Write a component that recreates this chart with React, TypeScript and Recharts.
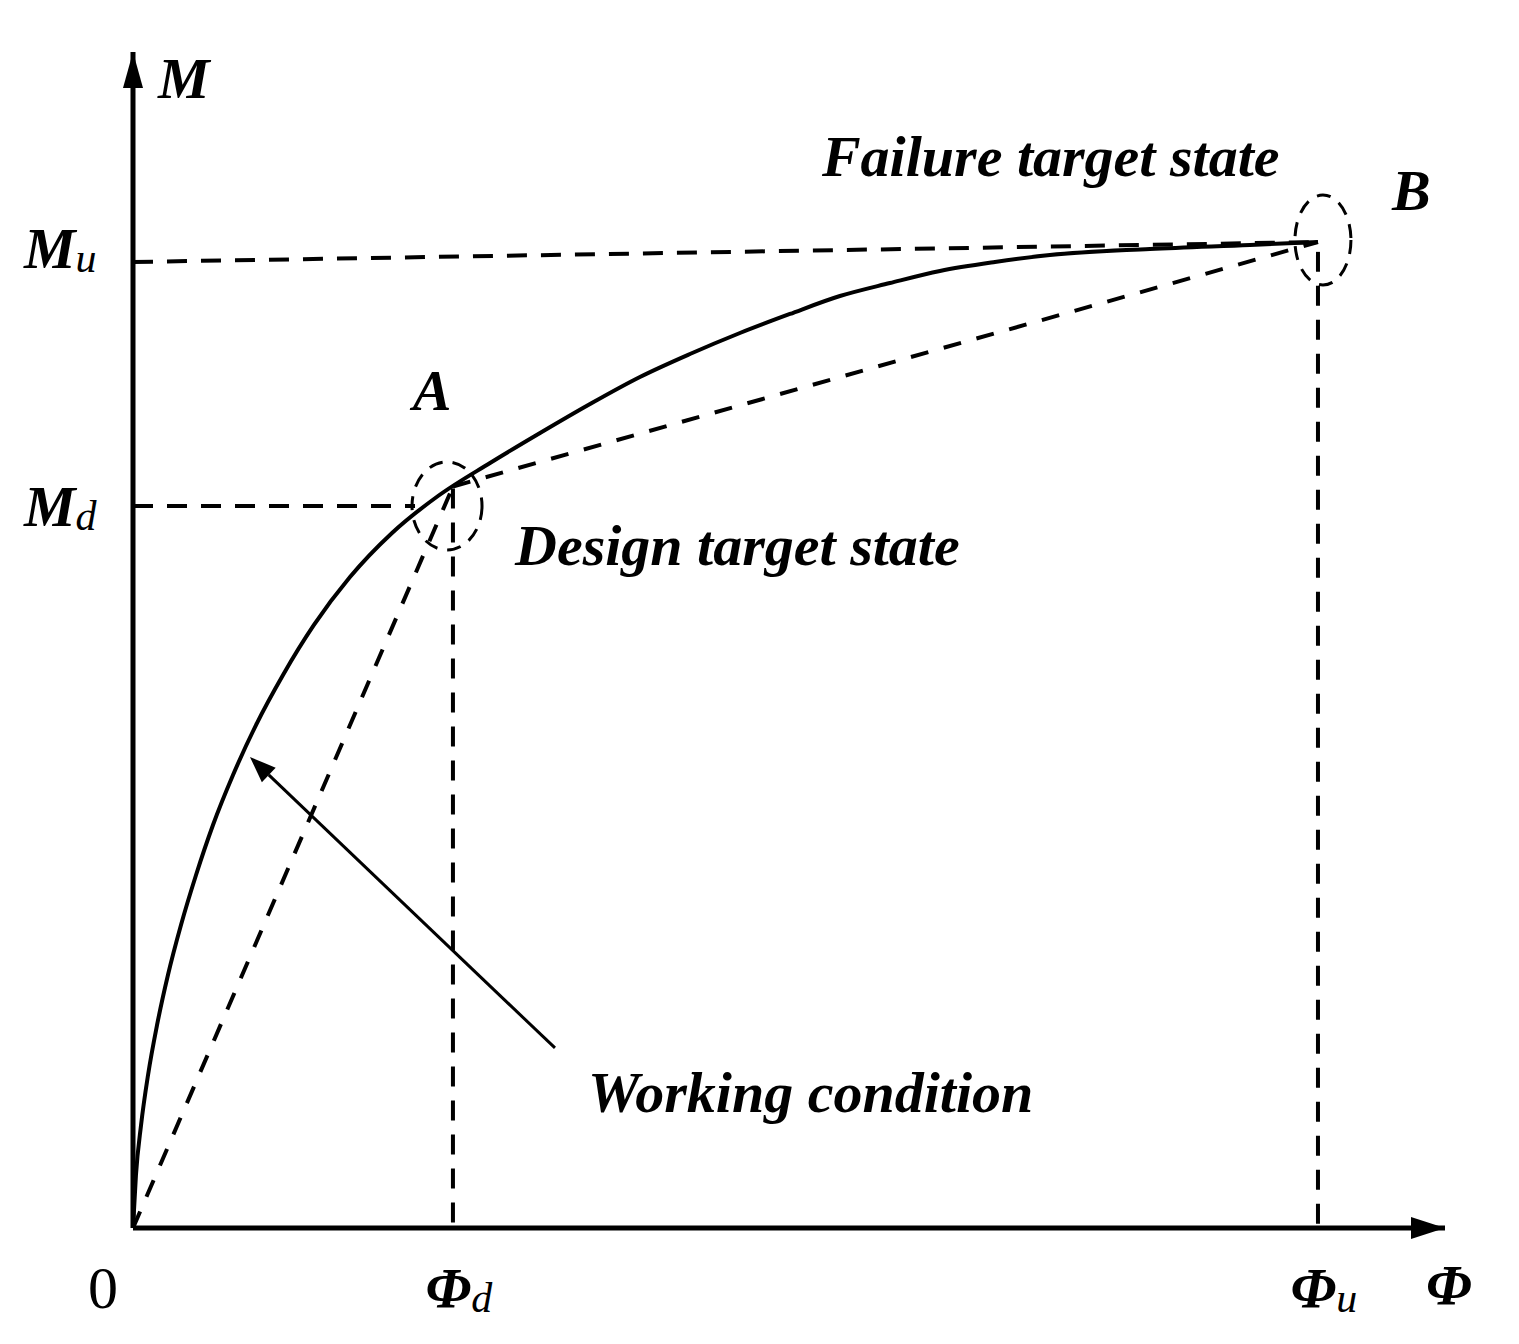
import React from "react";
import {
  ComposedChart,
  Line,
  XAxis,
  YAxis,
  ReferenceLine,
  ReferenceDot,
} from "recharts";

// normalised: phi / phiU, M / MB
const curvePhi = [0, 0.0025, 0.0068, 0.0127, 0.0203, 0.0295, 0.0405, 0.0532, 0.0675, 0.0844, 0.1038, 0.1266, 0.1527, 0.1831, 0.2186, 0.2574, 0.3013, 0.3435, 0.3857, 0.4278, 0.47, 0.5122, 0.5544, 0.5966, 0.6388, 0.681, 0.7274, 0.7738, 0.8582, 0.9426, 1];
const curveM = [0, 0.0538, 0.1045, 0.1552, 0.2059, 0.2566, 0.3073, 0.358, 0.4087, 0.4594, 0.5101, 0.5609, 0.6116, 0.6602, 0.7049, 0.7424, 0.7759, 0.8063, 0.8357, 0.8631, 0.8864, 0.9077, 0.927, 0.9452, 0.9584, 0.9706, 0.9797, 0.9868, 0.9929, 0.997, 1];

const phiD = 0.27;
const phiU = 1;
const mD = 0.7323;
const mU = 0.9797;
const pointA = { x: 0.27, y: 0.752 };
const pointB = { x: 1, y: 1 };

const xTicks = [0, phiD, phiU];
const xTickLabels = ["0", "Φ|d", "Φ|u"];
const yTicks = [mD, mU];
const yTickLabels = ["M|d", "M|u"];

const curveData = curvePhi.map((x, i) => ({ x, y: curveM[i] }));
const secantOA = [{ x: 0, y: 0 }, pointA];
const secantAB = [pointA, pointB];

const FONT = "'Liberation Serif', 'Times New Roman', serif";
const ink = "#000";

const txt = {
  fontFamily: FONT,
  fontWeight: 700,
  fontStyle: "italic" as const,
  fontSize: 58,
  fill: ink,
};

function SubLabel({ x, y, label, anchor }: any) {
  const [main, sub] = label.split("|");
  if (!sub) {
    return (
      <text x={x} y={y} textAnchor={anchor} fontFamily={FONT} fontSize={60} fill={ink}>
        {main}
      </text>
    );
  }
  return (
    <text x={x} y={y} textAnchor={anchor} {...txt}>
      {main}
      <tspan fontSize={42} fontWeight={400} dy={4}>
        {sub}
      </tspan>
    </text>
  );
}

function XTick(props: any) {
  const { x, payload } = props;
  const i = xTicks.indexOf(payload.value);
  const label = xTickLabels[i];
  const dx = i === 0 ? -30 : 6;
  return <SubLabel x={x + dx} y={1308} label={label} anchor="middle" />;
}

function YTick(props: any) {
  const { y, payload } = props;
  const i = yTicks.indexOf(payload.value);
  const dy = i === 0 ? 20 : 6;
  return <SubLabel x={24} y={y + dy} label={yTickLabels[i]} anchor="start" />;
}

const note = (text: string, size = 58) => (p: any) => (
  <text x={p.cx} y={p.cy} {...txt} fontSize={size}>
    {text}
  </text>
);

const ellipse = (rx: number, ry: number) => (p: any) => (
  <ellipse cx={p.cx} cy={p.cy} rx={rx} ry={ry} fill="none" stroke={ink} strokeWidth={3} strokeDasharray="14 10" />
);

const arrowHead = (dir: "up" | "right") => (p: any) => {
  const { cx, cy } = p;
  const pts =
    dir === "up"
      ? `${cx - 10},${cy + 36} ${cx + 10},${cy + 36} ${cx},${cy}`
      : `${cx - 34},${cy - 11} ${cx - 34},${cy + 11} ${cx},${cy}`;
  return <polygon points={pts} fill={ink} />;
};

function PointerArrow(p: any) {
  const { x1, y1, x2, y2 } = p;
  const ang = Math.atan2(y2 - y1, x2 - x1);
  const L = 26;
  const W = 10;
  const bx = x2 - L * Math.cos(ang);
  const by = y2 - L * Math.sin(ang);
  const nx = -Math.sin(ang) * W;
  const ny = Math.cos(ang) * W;
  return (
    <g>
      <line x1={x1} y1={y1} x2={bx} y2={by} stroke={ink} strokeWidth={3} />
      <polygon points={`${x2},${y2} ${bx + nx},${by + ny} ${bx - nx},${by - ny}`} fill={ink} />
    </g>
  );
}

const guide = { stroke: ink, strokeWidth: 4, strokeDasharray: "20 14" };

export default function App() {
  return (
    <div style={{ position: "absolute", left: 0, top: 0, background: "#fff" }}>
      <ComposedChart
        width={1519}
        height={1344}
        margin={{ top: 52, right: 74, bottom: 0, left: 0 }}
      >
        <XAxis
          type="number"
          dataKey="x"
          domain={[0, 1.1072]}
          ticks={xTicks}
          tick={<XTick />}
          tickLine={false}
          axisLine={{ stroke: ink, strokeWidth: 5 }}
          height={116}
          allowDataOverflow
        />
        <YAxis
          type="number"
          dataKey="y"
          domain={[0, 1.1927]}
          ticks={yTicks}
          tick={<YTick />}
          tickLine={false}
          axisLine={{ stroke: ink, strokeWidth: 5 }}
          width={133}
          allowDataOverflow
        />

        <ReferenceLine segment={[{ x: 0, y: mU }, { x: pointB.x, y: pointB.y }]} {...guide} />
        <ReferenceLine segment={[{ x: 0, y: mD }, { x: 0.238, y: mD }]} {...guide} />
        <ReferenceLine segment={[{ x: phiD, y: 0.75 }, { x: phiD, y: 0 }]} {...guide} />
        <ReferenceLine segment={[{ x: phiU, y: 0.99 }, { x: phiU, y: 0 }]} {...guide} />

        <Line data={secantOA} dataKey="y" type="linear" stroke={ink} strokeWidth={4} strokeDasharray="18 16" dot={false} isAnimationActive={false} />
        <Line data={secantAB} dataKey="y" type="linear" stroke={ink} strokeWidth={4} strokeDasharray="18 16" dot={false} isAnimationActive={false} />
        <Line data={curveData} dataKey="y" type="monotone" stroke={ink} strokeWidth={4} dot={false} isAnimationActive={false} />

        <ReferenceDot x={0.265} y={mD} r={1} ifOverflow="visible" shape={ellipse(35, 44)} />
        <ReferenceDot x={1.0042} y={1.002} r={1} ifOverflow="visible" shape={ellipse(28, 45)} />

        <ReferenceLine
          segment={[{ x: 0.3561, y: 0.1826 }, { x: 0.0987, y: 0.4777 }]}
          shape={PointerArrow}
        />

        <ReferenceDot x={1.1072} y={0} r={1} ifOverflow="visible" shape={arrowHead("right")} />
        <ReferenceDot x={0} y={1.1927} r={1} ifOverflow="visible" shape={arrowHead("up")} />

        <ReferenceDot x={0.021} y={1.146} r={1} ifOverflow="visible" shape={note("M")} />
        <ReferenceDot x={1.0911} y={-0.078} r={1} ifOverflow="visible" shape={note("Φ")} />
        <ReferenceDot x={0.236} y={0.8296} r={1} ifOverflow="visible" shape={note("A")} />
        <ReferenceDot x={1.0624} y={1.0325} r={1} ifOverflow="visible" shape={note("B")} />
        <ReferenceDot x={0.5814} y={1.0669} r={1} ifOverflow="visible" shape={note("Failure target state")} />
        <ReferenceDot x={0.3224} y={0.6724} r={1} ifOverflow="visible" shape={note("Design target state")} />
        <ReferenceDot x={0.3840} y={0.1176} r={1} ifOverflow="visible" shape={note("Working condition")} />
      </ComposedChart>
    </div>
  );
}
